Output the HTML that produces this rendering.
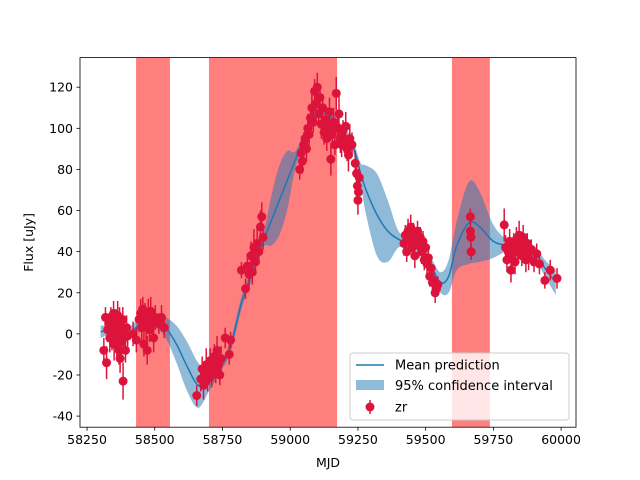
<!DOCTYPE html>
<html><head><meta charset="utf-8"><style>
html,body{margin:0;padding:0;background:#fff;}
svg{display:block;font-family:"DejaVu Sans","Liberation Sans",sans-serif;}
</style></head><body>
<svg id="chart" width="640" height="480" viewBox="0 0 640 480" xmlns="http://www.w3.org/2000/svg">
<rect x="0" y="0" width="640" height="480" fill="#fff"/>
<g id="plot"></g>
<g id="axes"></g>
<g id="legend">
  <rect x="350" y="353" width="219" height="67" rx="3" fill="#fff" fill-opacity="0.8" stroke="#ccc" stroke-width="1"/>
  <line x1="356" y1="365" x2="384" y2="365" stroke="#1f77b4" stroke-width="1.5"/>
  <text x="395" y="369.5" font-size="13" fill="#000">Mean prediction</text>
  <rect x="356" y="380" width="28" height="10" fill="#1f77b4" fill-opacity="0.5"/>
  <text x="395" y="390" font-size="13" fill="#000">95% confidence interval</text>
  <line x1="370" y1="400" x2="370" y2="414" stroke="#dc143c" stroke-width="1.5"/>
  <circle cx="370" cy="407" r="4.5" fill="#dc143c"/>
  <text x="395" y="411.5" font-size="13" fill="#000">zr</text>
</g>
</svg>
<script>
const xTicks=[58250,58500,58750,59000,59250,59500,59750,60000];
const yTicks=[-40,-20,0,20,40,60,80,100,120];
const bandStarts=[58431,58700,59597];
const bandEnds=[58556,59173,59737];
const predMjd=[58300,58350,58400,58450,58500,58540,58580,58620,58660,58700,58740,58780,58820,58860,58900,58930,58960,58990,59020,59060,59100,59140,59180,59220,59240,59260,59280,59320,59360,59400,59440,59480,59520,59555,59585,59615,59660,59700,59750,59800,59850,59900,59940,59980];
const predMean=[1,2,0,5,6,3,-5,-16,-25,-23,-17,-6,15,30,45,55,65,75,85,98,108,107,100,94,88,78,70,58,50,46,44,42,33,25,28,43,54,52,45,43,42,40,32,25];
const predHalf=[3,2,3,3,3,5,9,12,11,5,2,3,3,3,3,12,17,14,4,3,3,3,3,3,3,5,12,20,15,4,3,3,4,5,8,12,20,17,8,3,3,3,4,6];
const obsMjd=[58312,58318,58322,58326,58330,58334,58338,58342,58345,58348,58350,58352,58355,58358,58360,58363,58366,58368,58370,58372,58383,58376,58378,58382,58386,58392,58396,58400,
58420,58432,58442,58448,58452,58456,58460,58464,58468,58472,58476,58480,58485,58490,58496,58502,58515,58525,58535,
58655,58670,58675,58680,58685,58690,58695,58700,58705,58710,58715,58720,58725,58730,58735,58740,58745,58760,58775,58780,
58820,58835,58842,58848,58855,58860,58866,58872,58878,58884,58890,58895,58900,
59035,59040,59045,59050,59055,59060,59065,59070,59075,59080,59085,59090,59095,59100,59105,59110,59115,59120,59125,59130,59135,59140,59145,59150,59155,59160,59165,59170,59175,59180,59185,59190,59195,59200,59205,59210,59215,59220,59228,
59240,59245,59248,59250,59252,59255,
59420,59425,59430,59435,59440,59445,59450,59455,59460,59465,59470,59475,59480,59485,59490,59495,59500,59505,59510,59515,59520,59525,59530,59535,59540,59545,
59665,59665,59667,59668,
59790,59795,59800,59805,59810,59815,59820,59825,59830,59835,59840,59845,59850,59855,59860,59865,59870,59875,59880,59890,59900,59910,59920,59940,59960,59985];
const obsFlux=[-8,8,-14,2,5,-2,7,0,3,10,-5,4,-1,6,-3,9,2,-8,5,-12,-23,0,-4,7,-2,-8,3,-1,
0,-3,7,10,3,12,-5,8,5,-8,9,2,11,6,-2,8,5,8,3,
-30,-22,-17,-25,-20,-15,-22,-18,-13,-20,-16,-11,-18,-8,-15,-20,-12,-2,-10,-3,
31,22,33,29,38,30,42,35,44,40,52,57,47,
80,88,84,92,95,90,100,97,105,110,103,118,112,120,107,115,102,110,98,104,95,100,108,85,97,103,92,117,100,107,95,92,99,94,101,90,87,95,92,
83,78,72,65,69,76,
44,48,40,50,45,52,42,48,38,46,50,43,47,40,45,36,42,34,37,28,32,25,26,20,22,24,
57,50,47,40,
53,42,36,40,45,31,38,43,35,46,40,48,44,38,47,42,36,44,37,41,35,39,34,26,31,27];
const obsErr=[6,5,8,6,5,7,6,8,7,6,8,7,6,6,8,7,6,7,8,7,9,6,7,6,7,6,6,5,
6,6,6,7,8,6,6,7,8,7,8,6,7,6,7,6,5,6,5,
5,6,6,7,6,8,6,7,6,6,7,6,6,7,6,5,6,5,5,4,
4,5,6,6,7,6,9,6,7,6,8,7,6,
5,5,6,6,5,6,7,6,6,7,5,6,8,7,6,6,7,6,6,7,6,6,7,8,6,7,5,8,9,10,7,6,5,6,7,6,8,7,6,
6,5,6,7,5,5,
6,5,5,6,5,6,5,6,6,5,5,6,5,6,5,5,4,5,4,5,4,5,4,5,4,4,
4,5,5,4,
8,6,6,5,6,6,5,6,6,6,5,7,6,5,6,5,6,5,6,5,5,5,5,4,5,5];

const L=80,R=576,T=57.6,B=427.2;
const xMin=58224,xMax=60055,yMin=-45.4,yMax=134.4;
function sx(v){return L+(v-xMin)/(xMax-xMin)*(R-L);}
function sy(v){return B-(v-yMin)/(yMax-yMin)*(B-T);}
const NS='http://www.w3.org/2000/svg';
function mk(tag,attrs,parent){const e=document.createElementNS(NS,tag);for(const k in attrs)e.setAttribute(k,attrs[k]);parent.appendChild(e);return e;}
const plot=document.getElementById('plot'),axes=document.getElementById('axes');
const clip=mk('clipPath',{id:'clipP'},plot);mk('rect',{x:L,y:T,width:R-L,height:B-T},clip);
const pg=mk('g',{'clip-path':'url(#clipP)'},plot);

for(let i=0;i<bandStarts.length;i++){
  const r=mk('rect',{x:sx(bandStarts[i]),y:T,width:sx(bandEnds[i])-sx(bandStarts[i]),height:B-T,fill:'#ff0000','fill-opacity':0.5},pg);
  
  
}
function smooth(pts){
  let d='M'+pts[0][0]+','+pts[0][1];
  for(let i=0;i<pts.length-1;i++){
    const p0=pts[Math.max(0,i-1)],p1=pts[i],p2=pts[i+1],p3=pts[Math.min(pts.length-1,i+2)];
    const c1=[p1[0]+(p2[0]-p0[0])/6,p1[1]+(p2[1]-p0[1])/6];
    const c2=[p2[0]-(p3[0]-p1[0])/6,p2[1]-(p3[1]-p1[1])/6];
    d+=' C'+c1[0]+','+c1[1]+' '+c2[0]+','+c2[1]+' '+p2[0]+','+p2[1];
  }
  return d;
}
const up=predMjd.map((m,i)=>[sx(m),sy(predMean[i]+predHalf[i])]);
const lo=predMjd.map((m,i)=>[sx(m),sy(predMean[i]-predHalf[i])]).reverse();
const bandD=smooth(up)+' L'+lo[0][0]+','+lo[0][1]+smooth(lo).replace(/^M[^C]*/,' ')+' Z';
const ci=mk('path',{d:bandD,fill:'#1f77b4','fill-opacity':0.5,stroke:'none'},pg);


const ml=mk('path',{d:smooth(predMjd.map((m,i)=>[sx(m),sy(predMean[i])])),fill:'none',stroke:'#1f77b4','stroke-width':1.5},pg);


for(let i=0;i<obsMjd.length;i++){
  const x=sx(obsMjd[i]);
  const g=mk('g',{},pg);
  
  
  mk('line',{x1:x,x2:x,y1:sy(obsFlux[i]-obsErr[i]),y2:sy(obsFlux[i]+obsErr[i]),stroke:'#dc143c','stroke-width':1.5},g);
  mk('circle',{cx:x,cy:sy(obsFlux[i]),r:4.5,fill:'#dc143c'},g);
}
mk('rect',{x:L,y:T,width:R-L,height:B-T,fill:'none',stroke:'#000','stroke-width':0.8},axes);
xTicks.forEach(v=>{const x=sx(v);
  mk('line',{x1:x,x2:x,y1:B,y2:B+3.5,stroke:'#000','stroke-width':0.8},axes);
  const t=mk('text',{x:x,y:B+17,'font-size':12.5,'text-anchor':'middle',fill:'#000'},axes);t.textContent=v;
  
  
});
yTicks.forEach(v=>{const y=sy(v);
  mk('line',{x1:L,x2:L-3.5,y1:y,y2:y,stroke:'#000','stroke-width':0.8},axes);
  const t=mk('text',{x:L-7,y:y+4.5,'font-size':12.5,'text-anchor':'end',fill:'#000'},axes);t.textContent=v;
  
  
});
const xl=mk('text',{x:(L+R)/2,y:467,'font-size':12.5,'text-anchor':'middle',fill:'#000'},axes);xl.textContent='MJD';


const yl=mk('text',{x:0,y:0,'font-size':12.5,'text-anchor':'middle',fill:'#000',transform:'translate(33,'+((T+B)/2)+') rotate(-90)'},axes);yl.textContent='Flux [uJy]';


</script>
</body></html>
